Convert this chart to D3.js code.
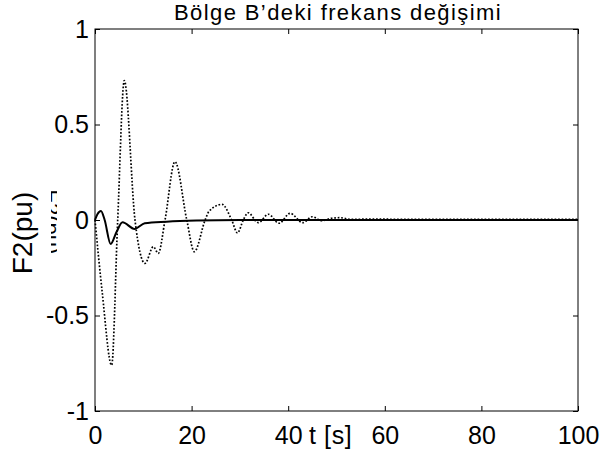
<!DOCTYPE html>
<html>
<head>
<meta charset="utf-8">
<title>F2</title>
<style>
body { margin:0; background:#fff; }
svg { display:block; font-family:"Liberation Sans", Arial, sans-serif; }
.tick text { font-size:25px; fill:#000; }
.tick line { stroke:#000; }
.axis path { display:none; }
</style>
</head>
<body>
<svg id="chart" width="603" height="453"></svg>
<script src="https://d3js.org/d3.v7.min.js"></script>
<script>

// values
let titleText = "Bölge B’deki frekans değişimi";
let xTicks = [0, 20, 40, 60, 80, 100];
let yTicks = [-1, -0.5, 0, 0.5, 1];

// dotted series (t, value)
let dotT = [0, 1.5, 3.45, 4.7, 6.07, 8.28, 10.35, 12.08, 13.1, 14.5, 16.56, 19.0, 20.56, 22.8, 23.6, 26.3, 28.3, 29.5, 30.7,
            31.7, 33.8, 35.9, 38.1, 40.4, 43.0, 45.0, 46.9, 49.0, 50.7, 53, 57, 65, 80, 100];
let dotV = [0, -0.38, -0.76, 0, 0.73, 0, -0.227, -0.14, -0.175, 0, 0.305, 0, -0.166, 0, 0.045, 0.082, 0, -0.068, 0,
            0.038, -0.014, 0.03, -0.017, 0.035, -0.014, 0.017, -0.004, 0.009, 0.012, 0.003, 0.005, 0.003, 0.003, 0.003];

// solid series (t, value)
let solT = [0, 0.5, 1.24, 2.0, 3.24, 4.5, 5.7, 8.2, 10.3, 14.8, 21, 30, 100];
let solV = [0, 0.03, 0.047, 0, -0.125, -0.06, -0.012, -0.047, -0.017, -0.009, -0.003, 0, 0];

let margin = {top: 29, right: 25, bottom: 42, left: 95},
    width = 603 - margin.left - margin.right,
    height = 453 - margin.top - margin.bottom;

let svg = d3.select("#chart");

let x = d3.scaleLinear().domain([0, 100]).range([0, width]),
    y = d3.scaleLinear().domain([-1, 1]).range([height, 0]);

// plain hyphen for negatives, like the original
let fmt = function(d) { return String(d); };

let g = svg.append("g")
    .attr("transform", "translate(" + margin.left + "," + margin.top + ")");

// ticks on all four sides, pointing in
g.append("g")
    .attr("class", "axis")
    .attr("transform", "translate(0," + height + ")")
    .call(d3.axisBottom(x).tickValues(xTicks).tickSize(-5).tickSizeOuter(0).tickPadding(15).tickFormat(fmt));
g.append("g")
    .attr("class", "axis")
    .call(d3.axisTop(x).tickValues(xTicks).tickSize(-5).tickSizeOuter(0).tickFormat(""));
g.append("g")
    .attr("class", "axis")
    .call(d3.axisLeft(y).tickValues(yTicks).tickSize(-5).tickSizeOuter(0).tickPadding(6).tickFormat(fmt));
g.append("g")
    .attr("class", "axis")
    .attr("transform", "translate(" + width + ",0)")
    .call(d3.axisRight(y).tickValues(yTicks).tickSize(-5).tickSizeOuter(0).tickFormat(""));

g.append("rect")
    .attr("width", width)
    .attr("height", height)
    .attr("fill", "none")
    .attr("stroke", "#000")
    .attr("stroke-width", 1);

let line = d3.line()
    .x(function(d) { return x(d[0]); })
    .y(function(d) { return y(d[1]); })
    .curve(d3.curveMonotoneX);

let dotted = dotT.map(function(t, i) { return [t, dotV[i]]; });
let solid = solT.map(function(t, i) { return [t, solV[i]]; });

g.append("path")
    .datum(dotted)
    .attr("d", line)
    .attr("fill", "none")
    .attr("stroke", "#000")
    .attr("stroke-width", 1.7)
    .attr("stroke-dasharray", "1.7,1.8");

g.append("path")
    .datum(solid)
    .attr("d", line)
    .attr("fill", "none")
    .attr("stroke", "#000")
    .attr("stroke-width", 2);

// title
svg.append("text")
    .attr("x", 338)
    .attr("y", 20)
    .attr("text-anchor", "middle")
    .attr("font-size", 22)
    .attr("letter-spacing", 1.4)
    .text(titleText);

// x label sits between the 40 and 60 tick labels
svg.append("text")
    .attr("x", 309)
    .attr("y", 444)
    .attr("font-size", 25)
    .attr("letter-spacing", 0.6)
    .text("t [s]");

// y label
svg.append("text")
    .attr("transform", "translate(32,233) rotate(-90)")
    .attr("text-anchor", "middle")
    .attr("font-size", 28)
    .text("F2(pu)");

// half hidden duplicate label next to the axis
svg.append("clipPath").attr("id", "ghost")
  .append("rect").attr("x", 51).attr("y", 176).attr("width", 6).attr("height", 88);
svg.append("g")
    .attr("clip-path", "url(#ghost)")
  .append("text")
    .attr("transform", "translate(44,222) rotate(90)")
    .attr("text-anchor", "middle")
    .attr("font-size", 22)
    .text("F2(pu)");

</script>
</body>
</html>
